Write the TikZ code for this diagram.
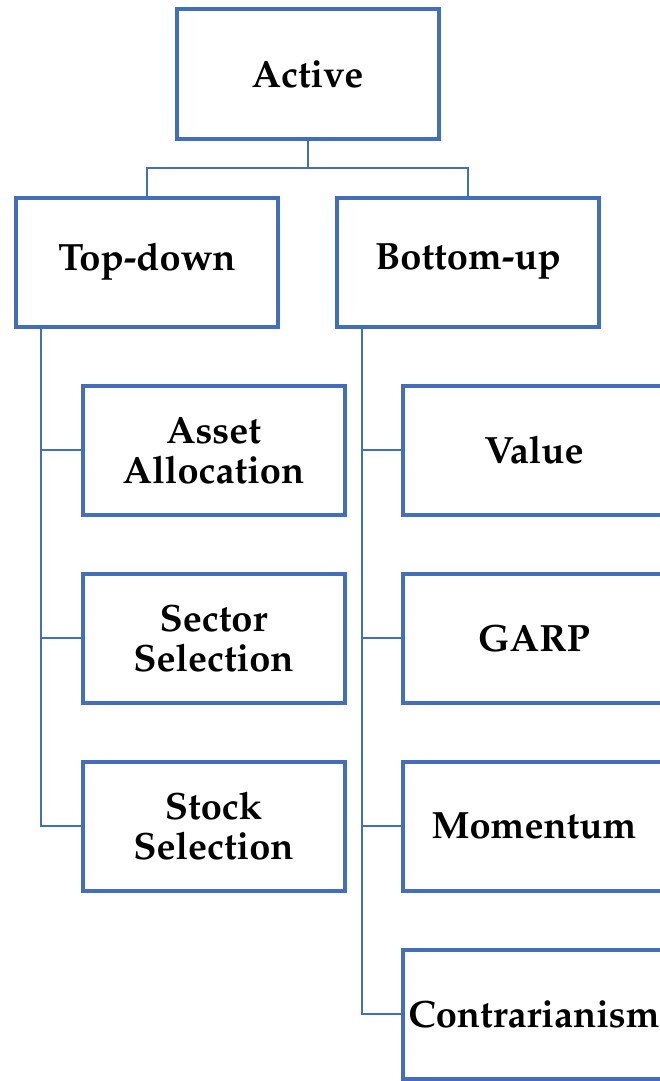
\documentclass[tikz,border=0pt]{standalone}
\usepackage[T1]{fontenc}
\usepackage{mathpazo}
\definecolor{smartblue}{RGB}{66,110,186}
\tikzset{
  box/.style={rectangle, draw=smartblue, line width=4pt, fill=white, minimum width=262pt, minimum height=129pt, inner sep=0pt, align=center, font=\fontsize{38}{40}\selectfont\bfseries},
  link/.style={draw=smartblue, line width=2pt}
}
\begin{document}
\begin{tikzpicture}[x=1pt, y=-1pt]
  \useasboundingbox (0,0) rectangle (660,1081);
  \clip (0,0) rectangle (660,1081);
  % top level
  \node[box] (active) at (307.5,74) {Active};
  \node[box] (topdown) at (147,262) {Top-down};
  \node[box] (bottomup) at (468,262) {Bottom-up};
  % top-down branch
  \node[box] (asset) at (213.5,450) {Asset\\Allocation};
  \node[box] (sector) at (213.5,638) {Sector\\Selection};
  \node[box] (stock) at (213.5,826) {Stock\\Selection};
  % bottom-up branch
  \node[box] (value) at (534,450) {Value};
  \node[box] (garp) at (534,638) {GARP};
  \node[box] (momentum) at (534,826) {Momentum};
  \node[box] (contra) at (534,1014) {Contrarianism};
  % connectors
  \coordinate (split) at (307.5,168);
  \draw[link] (active.south) -- (split);
  \draw[link] (topdown.north) |- (split) -| (bottomup.north);
  \coordinate (lspine) at ([xshift=27pt]topdown.south west);
  \coordinate (rspine) at ([xshift=27pt]bottomup.south west);
  \draw[link] (lspine) |- (stock.west);
  \foreach \n in {asset,sector}
    \draw[link] (\n.west) -- (\n.west -| lspine);
  \draw[link] (rspine) |- (contra.west);
  \foreach \n in {value,garp,momentum}
    \draw[link] (\n.west) -- (\n.west -| rspine);
\end{tikzpicture}
\end{document}
